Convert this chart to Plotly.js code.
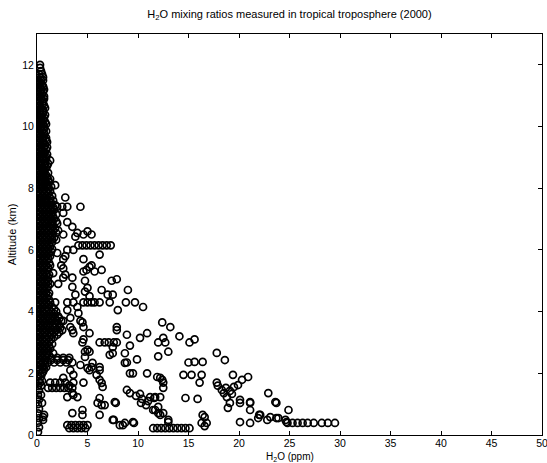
<!DOCTYPE html>
<html>
<head>
<meta charset="utf-8">
<script src="https://cdn.plot.ly/plotly-3.0.1.min.js"></script>
<style>html,body{margin:0;padding:0;background:#fff;}#chart{width:547px;height:463px;}</style>
</head>
<body>
<div id="chart"></div>
<script>
// Dense near-zero column: altitude rows (km) and H2O values (ppm) in each row
const colAlt = [11.9,11.7,11.5,11.35,11.2,11.05,10.9,10.75,10.6,10.45,10.3,10.15,10.0,9.85,9.7,9.55,9.4,9.25,9.1,8.95,8.8,8.65,8.5,8.35,8.2,8.05,7.9,7.75,7.6,7.45,7.3,7.15,7.0,6.85,6.7,6.55,6.4,6.25,6.1,5.95,5.8,5.65,5.5,5.35,5.2,5.05,4.9,4.75,4.6,4.45,4.3,4.15,4.0,3.85,3.7,3.55,3.4,3.25,3.1,2.95,2.8,2.65,2.5,2.35,2.2,2.05,1.9,1.75,1.6,1.45,1.3,1.15,1.0,0.85,0.7,0.55,0.4,0.25,0.1];
const colH2O = [
  [0.3],[0.2,0.5],[0.1,0.4,0.6],[0.2,0.5],[0.1,0.4,0.7],[0.2,0.5],[0.1,0.4,0.7],[0.2,0.6],[0.1,0.4,0.8],[0.3,0.6],
  [0.1,0.4,0.7],[0.2,0.5,0.8],[0.1,0.4,0.7],[0.2,0.5,0.9],[0.1,0.4,0.7],[0.2,0.6,0.9],[0.1,0.4,0.8],[0.2,0.5,0.9],[0.1,0.4,0.7,1.0],[0.2,0.6,0.9],
  [0.1,0.4,0.8,1.1],[0.2,0.5,0.9],[0.1,0.4,0.7,1.1],[0.2,0.6,1.0],[0.1,0.4,0.8,1.2],[0.2,0.6,1.0,1.4],[0.1,0.5,0.9,1.3],[0.2,0.6,1.0,1.5],[0.1,0.4,0.8,1.2,1.6],[0.2,0.6,1.0,1.4,1.8],
  [0.1,0.5,0.9,1.3,1.7],[0.2,0.6,1.0,1.4,1.9],[0.1,0.5,0.9,1.3,1.7],[0.2,0.6,1.0,1.5,2.0],[0.1,0.5,0.9,1.3,1.8],[0.2,0.6,1.0,1.4,1.9],[0.1,0.5,0.9,1.3,1.7],[0.2,0.6,1.0,1.5],[0.1,0.5,0.9,1.3],[0.2,0.6,1.0,1.4],
  [0.1,0.5,0.9,1.3],[0.2,0.6,1.0],[0.1,0.5,0.9,1.3],[0.2,0.6,1.0],[0.1,0.5,0.9,1.2],[0.2,0.6,1.0],[0.1,0.5,0.9,1.3],[0.2,0.6,1.0],[0.1,0.5,0.9,1.2],[0.2,0.6,1.0],
  [0.1,0.5,0.9,1.3],[0.2,0.6,1.0,1.5],[0.1,0.5,0.9,1.4,1.9],[0.2,0.6,1.1,1.6,2.1],[0.1,0.5,0.9,1.4,1.9,2.4],[0.2,0.6,1.1,1.6,2.2],[0.1,0.5,0.9,1.4,1.9,2.5],[0.2,0.6,1.0,1.5,2.0],[0.1,0.5,0.9,1.4],[0.2,0.6,1.0,1.5],
  [0.1,0.5,0.9,1.3],[0.2,0.6,1.0,1.6],[0.1,0.5,0.9,1.4,2.0,2.6,3.2],[0.2,0.6,1.1,1.7,2.3,2.9,3.5],[0.1,0.5,0.9],[0.2,0.6],[0.1,0.4],[0.2,0.5],[0.1,0.4],[0.2],
  [0.1,0.4],[0.2],[0.1],[0.2],[0.1],[0.2],[0.1],[0.2],[0.1]
];
// Interleaved rows of the same dense column
const colAlt2 = [11.8,11.6,11.43,11.28,11.13,10.98,10.83,10.68,10.53,10.38,10.23,10.08,9.93,9.78,9.63,9.48,9.33,9.18,9.03,8.88,8.73,8.58,8.43,8.28,8.13,7.98,7.83,7.68,7.53,7.38,7.23,7.08,6.93,6.78,6.63,6.48,6.33,6.18,6.03,5.88,5.73,5.58,5.43,5.28,5.13,4.98,4.83,4.68,4.53,4.38,4.23,4.08,3.93,3.78,3.63,3.48,3.33,3.18,3.03,2.88,2.73,2.58,2.43,2.28,2.13];
const colH2O2 = [
  [0.4],[0.3,0.6],[0.0,0.3],[0.3,0.6],[0.0,0.3,0.6],[0.3,0.7],[0.0,0.3,0.6],[0.3,0.7],[0.0,0.3,0.6],[0.0,0.4,0.8],
  [0.3,0.6],[0.0,0.3,0.6,0.9],[0.3,0.7],[0.0,0.3,0.7],[0.3,0.6,0.9],[0.0,0.3,0.6],[0.3,0.7,1.0],[0.0,0.3,0.7],[0.3,0.6,0.9],[0.0,0.4,0.8],
  [0.3,0.7,1.0],[0.0,0.3,0.7],[0.3,0.6,0.9],[0.0,0.4,0.8,1.1],[0.3,0.7,1.0],[0.0,0.3,0.7,1.1],[0.3,0.7,1.1],[0.0,0.4,0.8,1.3],[0.3,0.6,1.0,1.4],[0.0,0.4,0.8,1.2,1.6],
  [0.3,0.7,1.1,1.5],[0.0,0.4,0.8,1.2,1.6],[0.3,0.7,1.1,1.5,1.9],[0.0,0.4,0.8,1.2,1.6],[0.3,0.7,1.1,1.6,2.1],[0.0,0.4,0.8,1.2,1.5],[0.3,0.7,1.1,1.5,1.9],[0.0,0.4,0.8,1.2],[0.3,0.7,1.1,1.5],[0.0,0.4,0.8,1.2],
  [0.3,0.7,1.1],[0.0,0.4,0.8,1.2],[0.3,0.7,1.1],[0.0,0.4,0.8],[0.3,0.7,1.1],[0.0,0.4,0.8,1.1],[0.3,0.7,1.1],[0.0,0.4,0.8],[0.3,0.7,1.1],[0.0,0.4,0.8,1.2],
  [0.3,0.7,1.1],[0.0,0.4,0.8,1.2,1.7],[0.3,0.7,1.2,1.7],[0.0,0.4,0.8,1.3,1.8,2.2],[0.3,0.7,1.2,1.7,2.1],[0.0,0.4,0.8,1.3,1.8,2.3],[0.3,0.7,1.2,1.7,2.2],[0.0,0.4,0.8,1.2,1.7],[0.3,0.7,1.2],[0.0,0.4,0.8,1.2],
  [0.3,0.7,1.1],[0.0,0.4,0.8,1.2],[0.3,0.8,1.4,2.0,2.6,3.1],[0.0,0.4,0.8],[0.3,0.7]
];

// Scattered measurements above 4 km
const upperH2O = [0.3,0.6,1.0,1.3,1.3,1.8,2.8,2.0,2.5,3.0,4.3,2.6,3.0,3.5,2.6,3.8,4.0,4.6,5.0,5.4,3.6,3.0,2.0,4.6,6.2,5.2,6.4,2.6,2.6,1.6,2.8,5.4,5.7,4.6,4.9,7.4,7.9,6.4,7.0,7.5,4.75,5.0,3.5,2.6,2.1,3.5,3.8,4.75,5.2,9.0,2.4,2.8];
const upperAlt = [12.0,11.3,9.5,8.9,8.3,8.1,7.7,7.4,7.4,7.4,7.4,7.2,6.9,6.75,6.5,6.43,6.55,6.5,6.6,6.5,6.0,6.0,5.9,5.7,5.85,5.45,5.35,5.7,5.4,5.25,5.8,5.5,5.3,5.3,5.35,5.0,5.05,4.7,4.55,4.55,5.0,4.77,5.1,5.1,4.9,4.8,4.55,4.65,4.5,4.7,5.5,5.2];

// Scattered measurements between 2 and 4.3 km
const midH2O = [10.5,4.1,4.5,3.3,3.6,4.5,5.2,4.75,8.0,7.9,8.9,9.2,10.2,10.9,12.0,12.5,12.7,12.4,13.2,14.1,15.1,15.6,13.0,12.0,7.5,8.7,8.9,9.9,5.4,6.2,15.0,15.6,16.4,17.8,18.6,3.0,4.0,2.6,3.3,4.3,4.6,3.5,5.2,4.6,5.0,4.75,4.3,5.5,5.2,7.9,7.5,7.2,8.7,3.3,0.6,10.9,9.5];
const midAlt = [4.15,3.95,3.65,3.5,3.3,3.0,2.7,2.7,4.05,3.5,3.25,2.9,3.15,3.3,3.0,3.15,3.0,3.65,3.5,3.2,3.0,3.1,2.7,2.55,2.65,2.65,2.35,2.45,2.2,2.2,2.35,2.37,2.37,2.66,2.43,4.05,4.15,3.7,3.8,3.7,3.5,3.4,3.3,3.1,2.76,2.53,2.27,2.34,2.1,3.4,2.85,2.6,2.34,2.1,2.2,2.0,2.0];

// Scattered measurements below 2 km
const lowH2O = [14.5,15.3,16.3,16.1,19.4,17.8,17.9,18.3,18.7,19.1,19.5,19.9,18.5,19.3,18.8,18.9,20.3,20.9,20.1,21.1,21.1,20.1,21.1,21.9,22.1,22.9,23.6,24.9,23.1,23.9,24.6,11.2,11.7,12.2,11.9,12.4,12.5,11.7,12.2,16.6,16.3,16.6,14.7,15.9,0.5,0.7,3.5,4.5,4.5,6.4,7.8,7.6,8.5,9.6,10.3,10.8,11.5,12.0,13.0,16.4,16.8,19.1,20.1,21.1,22.0,22.8,23.7,23.7,24.7,0.5,0.3,2.6,3.6,4.6,3.0,3.6,0.6,0.6,6.2,6.7,7.7,7.5,8.2,8.7,9.5,8.9,9.2,9.8,10.4,11.0,11.6,10.2,12.2,12.5,12.0,12.5,13.0,5.0,6.2,5.9,6.2,6.4,6.5,9.2,3.6,4.0,3.5,6.0,6.2,3.2];
const lowAlt = [1.95,1.95,1.95,1.7,1.95,1.7,1.6,1.46,1.53,1.43,1.56,1.62,1.36,1.33,1.23,0.88,1.79,1.88,1.14,1.07,0.81,0.42,0.39,0.55,0.65,1.36,1.07,0.81,0.58,0.55,0.49,1.23,1.23,1.23,1.88,1.79,1.53,0.81,0.65,0.58,0.39,0.29,1.2,1.17,1.04,0.65,0.71,0.81,0.65,0.97,1.04,0.49,0.32,0.39,1.04,0.97,0.81,0.71,0.42,0.65,0.39,1.04,1.04,1.04,0.65,0.49,1.04,0.55,0.42,2.0,1.7,1.85,1.7,1.7,1.23,1.3,0.58,0.49,1.2,0.97,1.07,0.49,0.32,0.39,0.42,1.46,1.36,1.27,1.17,1.1,1.2,1.33,1.85,1.7,0.91,0.71,0.49,2.17,2.1,1.95,1.79,1.69,1.56,2.0,1.95,1.23,1.36,1.04,0.65,1.6];

// Constant-altitude flight legs
const legH2O = [4.1,4.5,4.9,5.3,5.7,6.1,6.5,6.9,7.3, 1.8,3.0,3.6,4.6,5.0,5.4,5.7,6.2,7.2,8.8,9.7, 6.2,6.7,7.1,7.6,7.9, 11.5,11.9,12.3,12.7,13.1,13.5,13.9,14.3,14.7,15.1, 24.8,25.3,25.8,26.3,26.8,27.4,28.2,28.8,29.5, 3.0,3.4,3.8,4.2,4.6,5.0, 3.2,3.6,4.0,4.4,4.8, 1.1,1.5,1.9,2.3,2.7,3.1,3.5, 1.3,1.8,2.3,2.8];
const legAlt = [6.15,6.15,6.15,6.15,6.15,6.15,6.15,6.15,6.15, 4.3,4.3,4.3,4.3,4.3,4.3,4.3,4.3,4.3,4.3,4.3, 3.0,3.0,3.0,3.0,3.0, 0.22,0.22,0.22,0.22,0.22,0.22,0.22,0.22,0.22,0.22, 0.39,0.39,0.39,0.39,0.39,0.39,0.39,0.39,0.39, 0.32,0.32,0.32,0.32,0.32,0.32, 0.22,0.22,0.22,0.22,0.22, 1.53,1.53,1.53,1.53,1.53,1.53,1.53, 1.7,1.7,1.7,1.7];

const xTicks = [0,5,10,15,20,25,30,35,40,45,50];
const yTicks = [0,2,4,6,8,10,12];

// flatten column rows
const colX = [], colY = [];
colAlt.forEach((a, i) => colH2O[i].forEach(v => { colX.push(v); colY.push(a); }));
colAlt2.forEach((a, i) => colH2O2[i].forEach(v => { colX.push(v); colY.push(a); }));

const allX = colX.concat(upperH2O, midH2O, lowH2O, legH2O);
const allY = colY.concat(upperAlt, midAlt, lowAlt, legAlt);

const trace = {
  x: allX, y: allY, type: 'scatter', mode: 'markers',
  marker: {symbol: 'circle-open', size: 7, color: '#000', line: {width: 1.7, color: '#000'}},
  hoverinfo: 'x+y', showlegend: false
};

const FONT = 'Liberation Sans, Arial, sans-serif';
const axisCommon = {
  showline: true, linecolor: '#000', linewidth: 1, mirror: 'ticks',
  ticks: 'inside', ticklen: 4, tickcolor: '#000', tickwidth: 1,
  showgrid: false, zeroline: false, fixedrange: true, ticklabeloverflow: 'allow',
  tickfont: {family: FONT, size: 10.5, color: '#000'}
};

const layout = {
  width: 547, height: 463,
  margin: {l: 37, r: 5, t: 34, b: 28},
  paper_bgcolor: '#fff', plot_bgcolor: '#fff',
  font: {family: FONT, size: 11, color: '#000'},
  title: {text: 'H<sub>2</sub>O mixing ratios measured in tropical troposphere (2000)',
          font: {size: 11, family: FONT, color: '#000'},
          x: 0.5, xref: 'paper', xanchor: 'center', y: 0.97, yref: 'container', yanchor: 'middle'},
  xaxis: Object.assign({}, axisCommon, {
    range: [0, 50], tickvals: xTicks, ticktext: xTicks.map(String), ticklabelstandoff: -2
  }),
  yaxis: Object.assign({}, axisCommon, {
    range: [0, 13], tickvals: yTicks, ticktext: yTicks.map(String),
    title: {text: 'Altitude (km)', font: {size: 11, family: FONT, color: '#000'}, standoff: 3}
  }),
  annotations: [{
    text: 'H<sub>2</sub>O (ppm)', xref: 'paper', yref: 'paper', x: 0.5, y: -0.073,
    xanchor: 'center', yanchor: 'bottom', showarrow: false, borderpad: 0,
    font: {size: 10, family: FONT, color: '#000'}
  }]
};

Plotly.newPlot('chart', [trace], layout, {displayModeBar: false, staticPlot: true});
</script>
</body>
</html>
